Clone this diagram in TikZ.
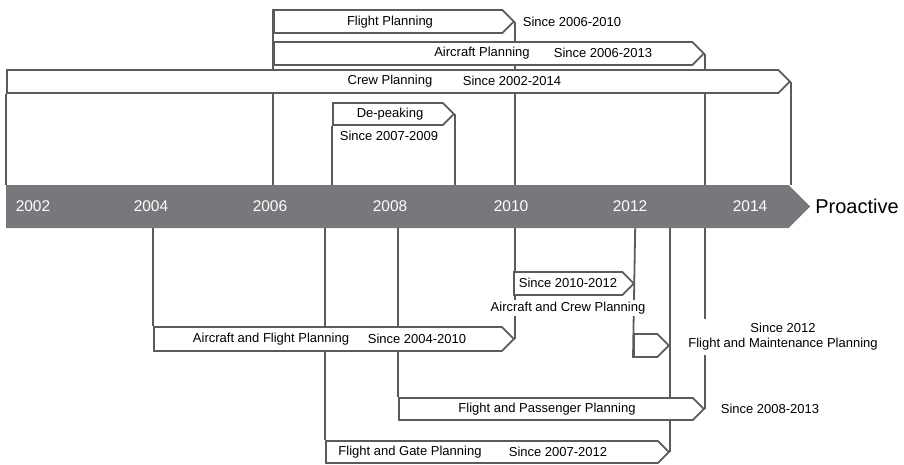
\documentclass[tikz,border=0pt]{standalone}
\usepackage{fontspec}
\setmainfont{Liberation Sans}
\usetikzlibrary{shapes.symbols,backgrounds}

\definecolor{linegray}{HTML}{5A5B5D}
\definecolor{bargray}{HTML}{77787B}

\tikzset{
  plan/.style={draw=linegray,line width=1.8pt,fill=white,signal,signal to=east,
    signal pointer angle=90,minimum height=23pt,inner sep=0pt,anchor=west},
  link/.style={draw=linegray,line width=1.8pt},
  year/.style={text=white,font=\fontsize{15.5}{18}\selectfont},
}

\begin{document}
\begin{tikzpicture}[x=1pt,y=-1pt,every node/.style={font=\fontsize{13}{15}\selectfont}]
  \useasboundingbox (0,0) rectangle (904,464);
  % time line
  \node[signal,signal to=east,signal pointer angle=90,fill=bargray,inner sep=0pt,
    minimum width=804pt,minimum height=43pt,anchor=west] (bar) at (6,206.5) {};
  \node[year] (y2002) at (33,206) {2002};
  \node[year] (y2004) at (151,206) {2004};
  \node[year] (y2006) at (270,206) {2006};
  \node[year] (y2008) at (390,206) {2008};
  \node[year] (y2010) at (511,206) {2010};
  \node[year] (y2012) at (630,206) {2012};
  \node[year] (y2014) at (750,206) {2014};
  \node[font=\fontsize{20}{24}\selectfont] (proactive) at (857,206) {Proactive};

  % above the time line
  \node[plan,minimum width=240pt] (fp) at (273,21.5) {};
  \node[plan,minimum width=430pt] (ap) at (273,53.5) {};
  \node[plan,minimum width=783pt] (cp) at (6,81.5) {};
  \node[plan,minimum width=121pt,minimum height=22pt] (dp) at (332,114) {};
  \node (fptext) at (390,22) {Flight Planning};
  \node (fpyears) at (572,22) {Since 2006-2010};
  \node (aptext) at (482,53) {Aircraft Planning};
  \node (apyears) at (603,53) {Since 2006-2013};
  \node (cptext) at (390,81) {Crew Planning};
  \node (cpyears) at (512,81) {Since 2002-2014};
  \node (dptext) at (390,114) {De-peaking};
  \node (dpyears) at (389,136) {Since 2007-2009};

  % below the time line
  \node[plan,minimum width=120pt] (acp) at (513,283.5) {};
  \node[plan,minimum width=35pt] (fmp) at (633,345.5) {};
  \node[plan,minimum width=360pt,minimum height=24pt] (afp) at (153,339) {};
  \node[plan,minimum width=305pt,minimum height=22pt] (fpp) at (398,409) {};
  \node[plan,minimum width=343pt,minimum height=22pt] (fgp) at (325,452) {};
  \node (acpyears) at (568,283) {Since 2010-2012};
  \node[fill=white,inner sep=2pt] (acptext) at (568,308) {Aircraft and Crew Planning};
  \node[fill=white,align=center,inner sep=4pt] (fmptext) at (783,337)
    {Since 2012\\Flight and Maintenance Planning};
  \node (afptext) at (271,339) {Aircraft and Flight Planning};
  \node (afpyears) at (417,339) {Since 2004-2010};
  \node (fpptext) at (547,409) {Flight and Passenger Planning};
  \node (fppyears) at (770,409) {Since 2008-2013};
  \node (fgptext) at (410,452) {Flight and Gate Planning};
  \node (fgpyears) at (558,452) {Since 2007-2012};

  \begin{pgfonlayer}{background}
    \draw[link] (fp.north west) -- (fp.north west |- bar.north);
    \draw[link] (fp.east) -- (fp.east |- bar.north);
    \draw[link] (ap.east) -- (ap.east |- bar.north);
    \draw[link] (cp.south west) -- (cp.south west |- bar.north);
    \draw[link] (cp.east) -- (cp.east |- bar.north);
    \draw[link] (dp.south west) -- (dp.south west |- bar.north);
    \draw[link] (dp.east) -- (dp.east |- bar.north);
    \draw[link] (afp.north west |- bar.south) -- (afp.north west);
    \draw[link] (fgp.north west |- bar.south) -- (fgp.north west);
    \draw[link] (fpp.north west |- bar.south) -- (fpp.north west);
    \draw[link] (afp.east |- bar.south) -- (afp.east);
    \draw[link] (acp.east |- bar.south) -- (fmp.south west);
    \draw[link] (fgp.east |- bar.south) -- (fgp.east);
    \draw[link] (fpp.east |- bar.south) -- (fpp.east);
  \end{pgfonlayer}
\end{tikzpicture}
\end{document}
